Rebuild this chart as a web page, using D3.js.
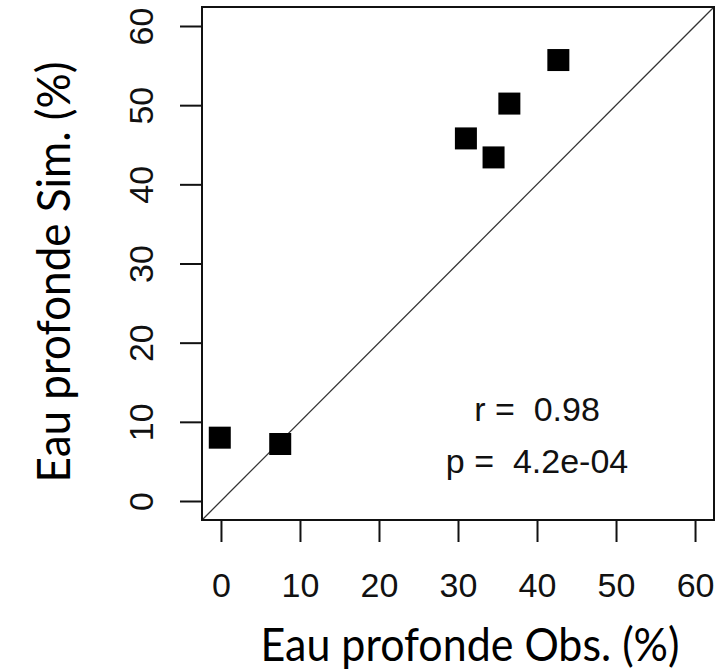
<!DOCTYPE html>
<html lang="fr">
<head>
<meta charset="UTF-8">
<title>Eau profonde Obs. vs Sim.</title>
<script src="https://d3js.org/d3.v7.min.js"></script>
<style>
  body { margin: 0; background: #fff; }
  .axis text { font: 34px "Liberation Sans", Arial, sans-serif; fill: #111; }
  .axis line { stroke: #111; stroke-width: 2px; }
  .stat { font: 34px "Liberation Sans", Arial, sans-serif; fill: #111; white-space: pre; }
  .title { font-family: Lato, "Open Sans", sans-serif; font-size: 46px; fill: #000; }
</style>
</head>
<body>
<div id="chart"></div>
<script>
// observed vs simulated deep water share (%)
const obs = [42.7, 36.5, 31.0, 34.5, -0.15, 7.5];
const sim = [55.7, 50.2, 45.8, 43.4, 8.0, 7.2];
const ticks = [0, 10, 20, 30, 40, 50, 60];
const statLines = ["r =  0.98", "p =  4.2e-04"];
const statY = [11.6, 5.0];
const statX = 40;

const width = 716, height = 670;
const box = { left: 202, right: 714, top: 7, bottom: 520 };

const svg = d3.select("#chart").append("svg")
    .attr("width", width)
    .attr("height", height);

// R style domain: 0..60 with 4% padding
const lo = -2.4, hi = 62.4;
const x = d3.scaleLinear().domain([lo, hi]).range([box.left, box.right]);
const y = d3.scaleLinear().domain([lo, hi]).range([box.bottom, box.top]);

// 1:1 line
svg.append("line")
    .attr("x1", x(lo)).attr("y1", y(lo))
    .attr("x2", x(hi)).attr("y2", y(hi))
    .attr("stroke", "#333")
    .attr("stroke-width", 1.3);

// points
svg.selectAll("rect.pt")
    .data(obs.map((d, i) => [d, sim[i]]))
    .enter().append("rect")
    .attr("class", "pt")
    .attr("x", d => x(d[0]) - 11)
    .attr("y", d => y(d[1]) - 11)
    .attr("width", 22)
    .attr("height", 22)
    .attr("fill", "#000");

// box
svg.append("rect")
    .attr("x", box.left).attr("y", box.top)
    .attr("width", box.right - box.left)
    .attr("height", box.bottom - box.top)
    .attr("fill", "none")
    .attr("stroke", "#111")
    .attr("stroke-width", 2);

// x axis
const gx = svg.append("g")
    .attr("class", "axis")
    .attr("transform", `translate(0,${box.bottom})`)
    .call(d3.axisBottom(x).tickValues(ticks).tickSize(22).tickPadding(31).tickFormat(d3.format("d")));
gx.select(".domain").remove();

// y axis, labels rotated like R
const gy = svg.append("g")
    .attr("class", "axis")
    .attr("transform", `translate(${box.left},0)`)
    .call(d3.axisLeft(y).tickValues(ticks).tickSize(22).tickFormat(d3.format("d")));
gy.select(".domain").remove();
gy.selectAll("text")
    .attr("transform", "rotate(-90)")
    .attr("x", 0)
    .attr("y", -49)
    .attr("dy", 0)
    .attr("text-anchor", "middle");

// r / p annotation
svg.selectAll("text.stat")
    .data(statLines)
    .enter().append("text")
    .attr("class", "stat")
    .attr("xml:space", "preserve")
    .attr("x", x(statX))
    .attr("y", (d, i) => y(statY[i]))
    .attr("dy", "0.35em")
    .attr("text-anchor", "middle")
    .text(d => d);

// axis titles
svg.append("text")
    .attr("class", "title")
    .attr("x", 470)
    .attr("y", 661)
    .attr("text-anchor", "middle")
    .attr("textLength", 419)
    .attr("lengthAdjust", "spacingAndGlyphs")
    .text("Eau profonde Obs. (%)");

svg.append("text")
    .attr("class", "title")
    .attr("transform", "translate(70,272) rotate(-90)")
    .attr("text-anchor", "middle")
    .attr("textLength", 421)
    .attr("lengthAdjust", "spacingAndGlyphs")
    .text("Eau profonde Sim. (%)");
</script>
</body>
</html>
